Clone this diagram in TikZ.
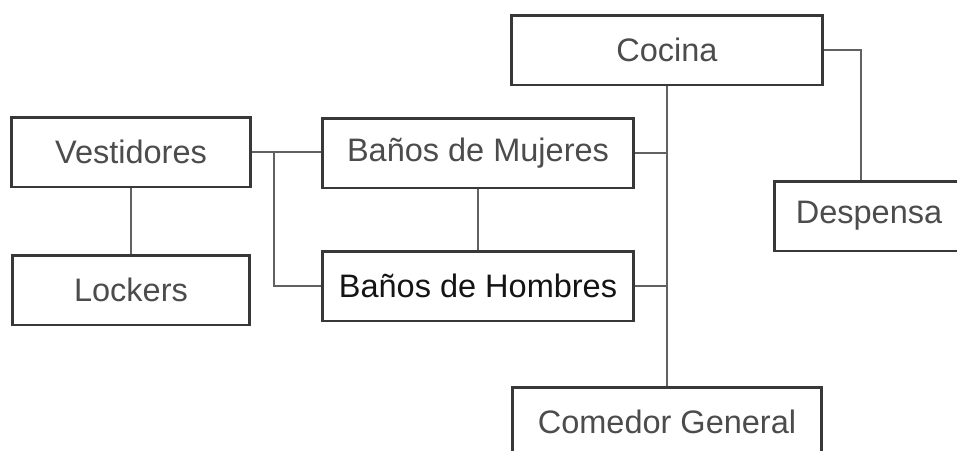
\documentclass[tikz,border=0pt]{standalone}
\usepackage{fontspec}
\setmainfont{Liberation Sans}
\usetikzlibrary{positioning}

\begin{document}
\begin{tikzpicture}
[x=0.02cm, y=-0.02cm,
 area/.style={draw=black!78, line width=1.7pt, minimum height=1.4cm, inner sep=0pt,
   font=\fontsize{18.5}{20}\selectfont, text=black!70},
 link/.style={draw=black!62, line width=0.8pt}]
\useasboundingbox (0,0) rectangle (957,450);
\node[area, minimum width=4.78cm] (vest) at (131,152) {Vestidores};
\node[area, minimum width=4.76cm] (lock) at (131,290) {Lockers};
\node[area, minimum width=6.22cm] (muj) at (478,153) {Baños de Mujeres};
\node[area, minimum width=6.22cm, text=black!92] (hom) at (478,286) {Baños de Hombres};
\node[area, minimum width=6.22cm] (coc) at (667,50) {Cocina};
\node[area, minimum width=4.6cm] (desp) at (889,216) {Despensa\kern0.8cm};
\node[area, minimum width=6.2cm] (com) at (667,422) {Comedor General};
\coordinate (fork) at (274,152);
\draw[link] (vest) -- (lock);
\draw[link] (vest.east) -- (vest.east -| muj.west);
\draw[link] (fork) |- (hom.west);
\draw[link] (muj) -- (hom);
\draw[link] (coc) -- (com);
\draw[link] (muj.east) -- (muj.east -| coc.south);
\draw[link] (hom.east) -- (hom.east -| coc.south);
\draw[link] (coc.east) -| ([xshift=-0.56cm]desp.north);
\end{tikzpicture}
\end{document}
